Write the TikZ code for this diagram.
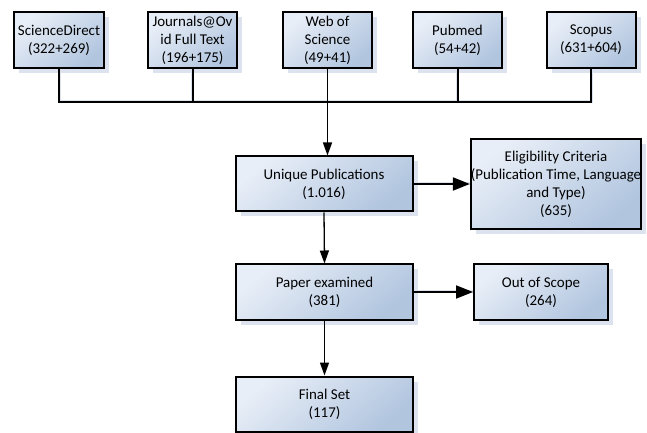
\documentclass[tikz,border=0pt]{standalone}
\usepackage{fontspec}
\setmainfont{Carlito}
\usetikzlibrary{arrows.meta,shadows,backgrounds}
\definecolor{boxlight}{HTML}{E8EEF7}
\definecolor{boxdark}{HTML}{B1C5DF}
\definecolor{shadowblue}{HTML}{DCE3EE}
\tikzset{
  dbbox/.style={draw=black, line width=2bp, top color=boxlight, bottom color=boxdark,
    shading angle=40, inner sep=0pt, align=center, font=\fontsize{15}{18}\selectfont,
    drop shadow={shadow xshift=5bp, shadow yshift=-5bp, fill=shadowblue, opacity=1}},
  topbox/.style={dbbox, minimum width=89bp, minimum height=56bp},
  midbox/.style={dbbox, minimum width=177bp, minimum height=55bp},
  busline/.style={line width=2bp, draw=black},
  busshadow/.style={line width=3bp, draw=shadowblue},
  thinarrow/.style={line width=1.3bp, -{Triangle[length=13bp,width=9bp]}},
  thickarrow/.style={line width=2bp, -{Triangle[length=17bp,width=13bp]}}
}

\begin{document}
\begin{tikzpicture}[x=1bp,y=-1bp]
		%%%%% START %%%%%
		\useasboundingbox (0,0) rectangle (647,433);
		
		% sources
		\node[topbox] (sd) at (59,40) {ScienceDirect\\(322+269)};
		\node[topbox] (jo) at (192.5,40) {Journals@Ov\\id Full Text\\(196+175)};
		\node[topbox] (ws) at (327.5,40) {Web of\\Science\\(49+41)};
		\node[topbox] (pm) at (457.5,40) {Pubmed\\(54+42)};
		\node[topbox] (sc) at (591,40) {Scopus\\(631+604)};
		
		% screening
		\node[midbox] (up) at (324,184) {Unique Publications\\(1.016)};
		\node[dbbox, minimum width=164bp, minimum height=90bp] (ec) at (556,184) {Eligibility Criteria\\(Publication Time, Language\\and Type)\\(635)};
		\node[midbox] (ps) at (324.5,292) {Paper examined\\(381)};
		\node[dbbox, minimum width=134bp, minimum height=56bp] (os) at (541,292) {Out of Scope\\(264)};
		\node[midbox] (fs) at (324.5,404) {Final Set\\(117)};
		
		\coordinate (bus) at (0,102);
		
		\begin{scope}[on background layer, transform canvas={shift={(5bp,-5bp)}}]
			\draw[busshadow] (sd.south) |- (bus -| sc.south) -- (sc.south);
			\draw[busshadow] (jo.south) -- (jo.south |- bus);
			\draw[busshadow] (pm.south) -- (pm.south |- bus);
			\draw[busshadow] (up.east) -- (ec.west);
			\draw[busshadow] (ps.east) -- (os.west);
		\end{scope}
		
		\draw[busline] (sd.south) |- (bus -| sc.south) -- (sc.south);
		\draw[busline] (jo.south) -- (jo.south |- bus);
		\draw[busline] (pm.south) -- (pm.south |- bus);
		
		\draw[thinarrow] (ws.south) -- (ws.south |- up.north);
		\draw[thickarrow] (up.east) -- (ec.west);
		\draw[thinarrow] (up.south) -- (ps.north);
		\draw[thickarrow] (ps.east) -- (os.west);
		\draw[thinarrow] (ps.south) -- (fs.north);
		
		%%%%% END %%%%%
\end{tikzpicture}
\end{document}
